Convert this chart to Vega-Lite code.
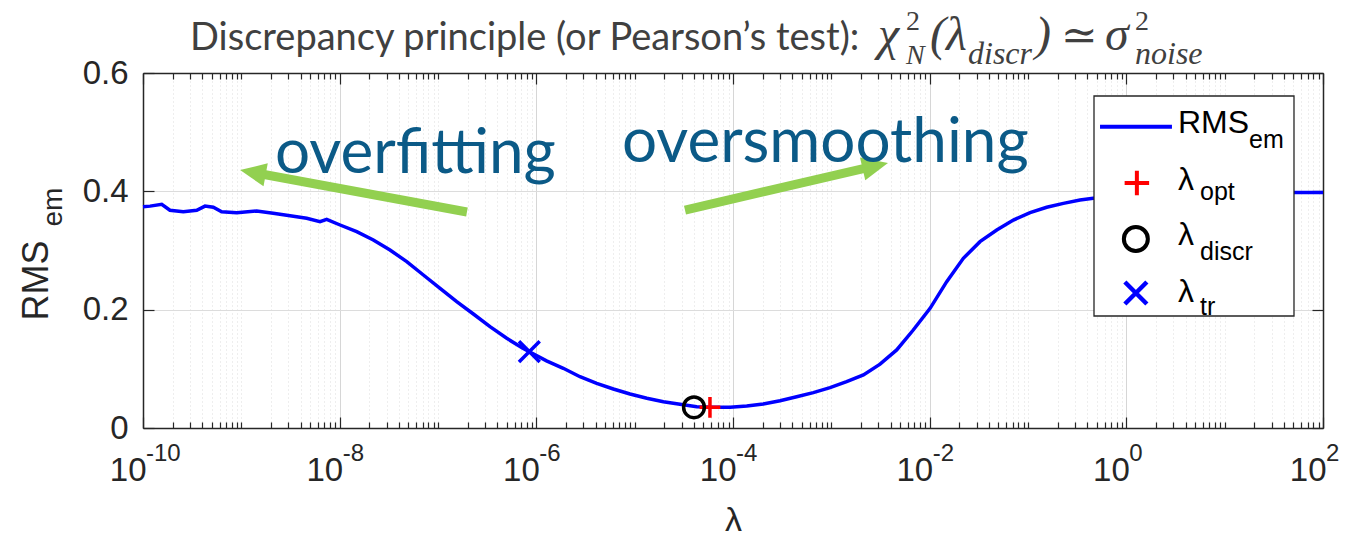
{
  "$schema": "https://vega.github.io/schema/vega-lite/v6.json",
  "width": 1180,
  "height": 355,
  "autosize": {"type": "none"},
  "padding": {"left": 143, "top": 73, "right": 30, "bottom": 110},
  "background": "#ffffff",
  "config": {"view": {"stroke": null}, "font": "Liberation Sans"},
  "data": {"values": [{}]},
  "datasets": {
    "curve": [
      {"lam": 1e-10, "rms": 0.374}, {"lam": 1.18e-10, "rms": 0.375}, {"lam": 1.55e-10, "rms": 0.378}, {"lam": 1.88e-10, "rms": 0.368},
      {"lam": 2.57e-10, "rms": 0.3656}, {"lam": 3.52e-10, "rms": 0.368}, {"lam": 4.27e-10, "rms": 0.375}, {"lam": 5.19e-10, "rms": 0.373},
      {"lam": 6.31e-10, "rms": 0.3656}, {"lam": 8.97e-10, "rms": 0.364}, {"lam": 1.43e-9, "rms": 0.3668}, {"lam": 2.11e-9, "rms": 0.3628},
      {"lam": 3.13e-9, "rms": 0.3589}, {"lam": 4.62e-9, "rms": 0.3544}, {"lam": 6.31e-9, "rms": 0.3487}, {"lam": 7.38e-9, "rms": 0.3527},
      {"lam": 1.01e-8, "rms": 0.3431}, {"lam": 1.49e-8, "rms": 0.3318}, {"lam": 2.2e-8, "rms": 0.3177}, {"lam": 3.25e-8, "rms": 0.3008},
      {"lam": 4.81e-8, "rms": 0.2811}, {"lam": 7.1e-8, "rms": 0.2586}, {"lam": 1.05e-7, "rms": 0.2361}, {"lam": 1.55e-7, "rms": 0.2135},
      {"lam": 2.29e-7, "rms": 0.1927}, {"lam": 3.38e-7, "rms": 0.1712}, {"lam": 5.0e-7, "rms": 0.1516}, {"lam": 7.36e-7, "rms": 0.1345},
      {"lam": 8.49e-7, "rms": 0.129}, {"lam": 1.27e-6, "rms": 0.1135}, {"lam": 1.88e-6, "rms": 0.1009}, {"lam": 2.78e-6, "rms": 0.0867},
      {"lam": 4.11e-6, "rms": 0.0755}, {"lam": 6.07e-6, "rms": 0.0659}, {"lam": 8.97e-6, "rms": 0.0575}, {"lam": 1.33e-5, "rms": 0.0502},
      {"lam": 1.96e-5, "rms": 0.0445}, {"lam": 2.89e-5, "rms": 0.04}, {"lam": 4.28e-5, "rms": 0.036}, {"lam": 6.31e-5, "rms": 0.0349},
      {"lam": 9.33e-5, "rms": 0.0349}, {"lam": 1.38e-4, "rms": 0.0372}, {"lam": 2.03e-4, "rms": 0.0406}, {"lam": 3.01e-4, "rms": 0.0462},
      {"lam": 4.44e-4, "rms": 0.0529}, {"lam": 6.56e-4, "rms": 0.0597}, {"lam": 9.7e-4, "rms": 0.0681}, {"lam": 1.43e-3, "rms": 0.0783},
      {"lam": 2.12e-3, "rms": 0.0896}, {"lam": 3.13e-3, "rms": 0.108}, {"lam": 4.62e-3, "rms": 0.132}, {"lam": 6.81e-3, "rms": 0.1656},
      {"lam": 1.01e-2, "rms": 0.2023}, {"lam": 1.49e-2, "rms": 0.2473}, {"lam": 2.2e-2, "rms": 0.2868}, {"lam": 3.25e-2, "rms": 0.3149},
      {"lam": 4.81e-2, "rms": 0.3346}, {"lam": 7.1e-2, "rms": 0.3515}, {"lam": 0.105, "rms": 0.3639}, {"lam": 0.155, "rms": 0.373},
      {"lam": 0.229, "rms": 0.3797}, {"lam": 0.338, "rms": 0.3853}, {"lam": 0.461, "rms": 0.3882}, {"lam": 1.74, "rms": 0.393},
      {"lam": 5.61, "rms": 0.396}, {"lam": 18.1, "rms": 0.3975}, {"lam": 51.9, "rms": 0.398}, {"lam": 100, "rms": 0.398}
    ],
    "markers": [
      {"name": "λ_opt", "lam": 5.83e-5, "rms": 0.035},
      {"name": "λ_discr", "lam": 4.01e-5, "rms": 0.035},
      {"name": "λ_tr", "lam": 8.49e-7, "rms": 0.129}
    ],
    "decades": [
      {"lam": 1e-10, "exp": "-10"}, {"lam": 1e-8, "exp": "-8"}, {"lam": 1e-6, "exp": "-6"}, {"lam": 1e-4, "exp": "-4"},
      {"lam": 1e-2, "exp": "-2"}, {"lam": 1, "exp": "0"}, {"lam": 100, "exp": "2"}
    ]
  },
  "resolve": {"axis": {"x": "independent", "y": "independent"}},
  "layer": [
    {
      "data": {"name": "curve"},
      "mark": {"type": "line", "color": "#0000ff", "strokeWidth": 3.5},
      "encoding": {
        "x": {"field": "lam", "type": "quantitative", "scale": {"type": "log", "domain": [1e-10, 100], "nice": false},
          "axis": {
            "orient": "bottom",
            "values": [1e-10,2e-10,3e-10,4e-10,5e-10,6e-10,7e-10,8e-10,9e-10,1e-9,2e-9,3e-9,4e-9,5e-9,6e-9,7e-9,8e-9,9e-9,1e-8,2e-8,3e-8,4e-8,5e-8,6e-8,7e-8,8e-8,9e-8,1e-7,2e-7,3e-7,4e-7,5e-7,6e-7,7e-7,8e-7,9e-7,1e-6,2e-6,3e-6,4e-6,5e-6,6e-6,7e-6,8e-6,9e-6,1e-5,2e-5,3e-5,4e-5,5e-5,6e-5,7e-5,8e-5,9e-5,1e-4,2e-4,3e-4,4e-4,5e-4,6e-4,7e-4,8e-4,9e-4,0.001,0.002,0.003,0.004,0.005,0.006,0.007,0.008,0.009,0.01,0.02,0.03,0.04,0.05,0.06,0.07,0.08,0.09,0.1,0.2,0.3,0.4,0.5,0.6,0.7,0.8,0.9,1,2,3,4,5,6,7,8,9,10,20,30,40,50,60,70,80,90,100],
            "labelExpr": "(abs(log(datum.value)/LN10 - round(log(datum.value)/LN10)) < 0.001 && round(log(datum.value)/LN10) % 2 == 0) ? '10' : ''",
            "labelAlign": "right", "labelOffset": 3, "labelBaseline": "alphabetic", "labelPadding": 63,
            "labelFont": "Liberation Sans", "labelFontSize": 33, "labelColor": "#262626",
            "labelFlush": false, "labelOverlap": false, "labelBound": false,
            "ticks": true,
            "tickSize": {"condition": {"test": "abs(log(datum.value)/LN10 - round(log(datum.value)/LN10)) < 0.001 && round(log(datum.value)/LN10) % 2 == 0", "value": -11}, "value": -6},
            "tickColor": "#262626", "tickWidth": 1.2,
            "grid": true,
            "gridColor": {"condition": {"test": "abs(log(datum.value)/LN10 - round(log(datum.value)/LN10)) < 0.001 && round(log(datum.value)/LN10) % 2 == 0", "value": "#d6d6d6"}, "value": "#dddddd"},
            "gridDash": {"condition": {"test": "abs(log(datum.value)/LN10 - round(log(datum.value)/LN10)) < 0.001 && round(log(datum.value)/LN10) % 2 == 0", "value": []}, "value": [1, 3]},
            "gridWidth": 1,
            "domain": true, "domainColor": "#262626", "domainWidth": 1.5,
            "title": "λ", "titleFont": "Liberation Sans", "titleFontSize": 34, "titleFontWeight": "normal", "titleColor": "#262626",
            "titleX": 590, "titleY": 102, "titleBaseline": "alphabetic", "titleAlign": "center"
          }
        },
        "y": {"field": "rms", "type": "quantitative", "scale": {"domain": [0, 0.6], "nice": false, "zero": false},
          "axis": {
            "orient": "left", "values": [0, 0.2, 0.4, 0.6],
            "labelExpr": "datum.value == 0 ? '0' : format(datum.value, '.1f')",
            "labelFont": "Liberation Sans", "labelFontSize": 33, "labelColor": "#262626", "labelPadding": 26,
            "labelFlush": false, "labelBound": false, "labelOverlap": false,
            "tickSize": -11, "tickColor": "#262626", "tickWidth": 1.2,
            "grid": true, "gridColor": "#dcdcdc", "gridWidth": 1,
            "domainColor": "#262626", "domainWidth": 1.5,
            "title": "RMS", "titleFont": "Liberation Sans", "titleFontSize": 36, "titleFontWeight": "normal", "titleColor": "#262626",
            "titleAngle": 270, "titleX": -96, "titleY": 207, "titleAlign": "center", "titleBaseline": "alphabetic"
          }
        }
      }
    },
    {
      "data": {"name": "markers"},
      "mark": {"type": "point", "filled": false, "strokeWidth": 3.5, "size": 430, "opacity": 1},
      "encoding": {
        "x": {"field": "lam", "type": "quantitative", "scale": {"type": "log", "domain": [1e-10, 100], "nice": false},
          "axis": {
            "orient": "top",
            "values": [1e-10,2e-10,3e-10,4e-10,5e-10,6e-10,7e-10,8e-10,9e-10,1e-9,2e-9,3e-9,4e-9,5e-9,6e-9,7e-9,8e-9,9e-9,1e-8,2e-8,3e-8,4e-8,5e-8,6e-8,7e-8,8e-8,9e-8,1e-7,2e-7,3e-7,4e-7,5e-7,6e-7,7e-7,8e-7,9e-7,1e-6,2e-6,3e-6,4e-6,5e-6,6e-6,7e-6,8e-6,9e-6,1e-5,2e-5,3e-5,4e-5,5e-5,6e-5,7e-5,8e-5,9e-5,1e-4,2e-4,3e-4,4e-4,5e-4,6e-4,7e-4,8e-4,9e-4,0.001,0.002,0.003,0.004,0.005,0.006,0.007,0.008,0.009,0.01,0.02,0.03,0.04,0.05,0.06,0.07,0.08,0.09,0.1,0.2,0.3,0.4,0.5,0.6,0.7,0.8,0.9,1,2,3,4,5,6,7,8,9,10,20,30,40,50,60,70,80,90,100],
            "labels": false, "grid": false,
            "tickSize": {"condition": {"test": "abs(log(datum.value)/LN10 - round(log(datum.value)/LN10)) < 0.001 && round(log(datum.value)/LN10) % 2 == 0", "value": -11}, "value": -6},
            "tickColor": "#262626", "tickWidth": 1.2,
            "domainColor": "#262626", "domainWidth": 1.5, "title": null
          }
        },
        "y": {"field": "rms", "type": "quantitative", "scale": {"domain": [0, 0.6], "nice": false, "zero": false},
          "axis": {
            "orient": "right", "values": [0, 0.2, 0.4, 0.6], "labels": false, "grid": false,
            "tickSize": -11, "tickColor": "#262626", "tickWidth": 1.2,
            "domainColor": "#262626", "domainWidth": 1.5, "title": null
          }
        },
        "shape": {"field": "name", "type": "nominal", "scale": {"domain": ["λ_opt", "λ_discr", "λ_tr"], "range": ["M-1,0H1M0,-1V1", "circle", "M-1,-1L1,1M-1,1L1,-1"]}, "legend": null},
        "color": {"field": "name", "type": "nominal", "scale": {"domain": ["λ_opt", "λ_discr", "λ_tr"], "range": ["#ff0000", "#000000", "#0000ff"]}, "legend": null}
      }
    },
    {
      "data": {"name": "decades"},
      "mark": {"type": "text", "align": "left", "baseline": "alphabetic", "dx": 3, "dy": 33, "font": "Liberation Sans", "fontSize": 24, "color": "#262626"},
      "encoding": {
        "x": {"field": "lam", "type": "quantitative", "scale": {"type": "log", "domain": [1e-10, 100], "nice": false}, "axis": null},
        "y": {"datum": 0, "scale": {"domain": [0, 0.6], "nice": false, "zero": false}, "axis": null},
        "text": {"field": "exp"}
      }
    },
    {
      "mark": {"type": "rect", "fill": "#ffffff", "stroke": "#262626", "strokeWidth": 1.3},
      "encoding": {
        "x": {"datum": 0.469, "scale": {"type": "log", "domain": [1e-10, 100], "nice": false}, "axis": null}, "x2": {"datum": 50.7},
        "y": {"datum": 0.5611, "scale": {"domain": [0, 0.6], "nice": false, "zero": false}, "axis": null}, "y2": {"datum": 0.1893}
      }
    },
    {
      "mark": {"type": "rule", "color": "#0000ff", "strokeWidth": 4},
      "encoding": {
        "x": {"datum": 0.54, "scale": {"type": "log", "domain": [1e-10, 100], "nice": false}, "axis": null}, "x2": {"datum": 2.91},
        "y": {"datum": 0.5092, "scale": {"domain": [0, 0.6], "nice": false, "zero": false}, "axis": null}
      }
    },
    {
      "mark": {"type": "point", "shape": "M-1,0H1M0,-1V1", "size": 600, "filled": false, "stroke": "#ff0000", "strokeWidth": 4, "opacity": 1},
      "encoding": {
        "x": {"datum": 1.28, "scale": {"type": "log", "domain": [1e-10, 100], "nice": false}, "axis": null},
        "y": {"datum": 0.4141, "scale": {"domain": [0, 0.6], "nice": false, "zero": false}, "axis": null}
      }
    },
    {
      "mark": {"type": "point", "shape": "circle", "size": 576, "filled": false, "stroke": "#000000", "strokeWidth": 4, "opacity": 1},
      "encoding": {
        "x": {"datum": 1.25, "scale": {"type": "log", "domain": [1e-10, 100], "nice": false}, "axis": null},
        "y": {"datum": 0.3194, "scale": {"domain": [0, 0.6], "nice": false, "zero": false}, "axis": null}
      }
    },
    {
      "mark": {"type": "point", "shape": "M-1,-1L1,1M-1,1L1,-1", "size": 484, "filled": false, "stroke": "#0000ff", "strokeWidth": 4.5, "opacity": 1},
      "encoding": {
        "x": {"datum": 1.25, "scale": {"type": "log", "domain": [1e-10, 100], "nice": false}, "axis": null},
        "y": {"datum": 0.2282, "scale": {"domain": [0, 0.6], "nice": false, "zero": false}, "axis": null}
      }
    },
    {
      "mark": {"type": "text", "text": "RMS", "align": "left", "baseline": "alphabetic", "font": "Liberation Sans", "fontSize": 32, "color": "#000000"},
      "encoding": {
        "x": {"datum": 3.35, "scale": {"type": "log", "domain": [1e-10, 100], "nice": false}, "axis": null},
        "y": {"datum": 0.4986, "scale": {"domain": [0, 0.6], "nice": false, "zero": false}, "axis": null}
      }
    },
    {
      "mark": {"type": "text", "text": "em", "align": "left", "baseline": "alphabetic", "font": "Liberation Sans", "fontSize": 25, "color": "#000000"},
      "encoding": {
        "x": {"datum": 17.7, "scale": {"type": "log", "domain": [1e-10, 100], "nice": false}, "axis": null},
        "y": {"datum": 0.4732, "scale": {"domain": [0, 0.6], "nice": false, "zero": false}, "axis": null}
      }
    },
    {
      "mark": {"type": "text", "text": "λ", "align": "left", "baseline": "alphabetic", "font": "Liberation Sans", "fontSize": 32, "color": "#000000"},
      "encoding": {
        "x": {"datum": 3.35, "scale": {"type": "log", "domain": [1e-10, 100], "nice": false}, "axis": null},
        "y": {"datum": 0.4023, "scale": {"domain": [0, 0.6], "nice": false, "zero": false}, "axis": null}
      }
    },
    {
      "mark": {"type": "text", "text": "opt", "align": "left", "baseline": "alphabetic", "font": "Liberation Sans", "fontSize": 25, "color": "#000000"},
      "encoding": {
        "x": {"datum": 5.61, "scale": {"type": "log", "domain": [1e-10, 100], "nice": false}, "axis": null},
        "y": {"datum": 0.3853, "scale": {"domain": [0, 0.6], "nice": false, "zero": false}, "axis": null}
      }
    },
    {
      "mark": {"type": "text", "text": "λ", "align": "left", "baseline": "alphabetic", "font": "Liberation Sans", "fontSize": 32, "color": "#000000"},
      "encoding": {
        "x": {"datum": 3.35, "scale": {"type": "log", "domain": [1e-10, 100], "nice": false}, "axis": null},
        "y": {"datum": 0.3093, "scale": {"domain": [0, 0.6], "nice": false, "zero": false}, "axis": null}
      }
    },
    {
      "mark": {"type": "text", "text": "discr", "align": "left", "baseline": "alphabetic", "font": "Liberation Sans", "fontSize": 25, "color": "#000000"},
      "encoding": {
        "x": {"datum": 5.61, "scale": {"type": "log", "domain": [1e-10, 100], "nice": false}, "axis": null},
        "y": {"datum": 0.2839, "scale": {"domain": [0, 0.6], "nice": false, "zero": false}, "axis": null}
      }
    },
    {
      "mark": {"type": "text", "text": "λ", "align": "left", "baseline": "alphabetic", "font": "Liberation Sans", "fontSize": 32, "color": "#000000"},
      "encoding": {
        "x": {"datum": 3.35, "scale": {"type": "log", "domain": [1e-10, 100], "nice": false}, "axis": null},
        "y": {"datum": 0.213, "scale": {"domain": [0, 0.6], "nice": false, "zero": false}, "axis": null}
      }
    },
    {
      "mark": {"type": "text", "text": "tr", "align": "left", "baseline": "alphabetic", "font": "Liberation Sans", "fontSize": 25, "color": "#000000"},
      "encoding": {
        "x": {"datum": 5.61, "scale": {"type": "log", "domain": [1e-10, 100], "nice": false}, "axis": null},
        "y": {"datum": 0.191, "scale": {"domain": [0, 0.6], "nice": false, "zero": false}, "axis": null}
      }
    },
    {
      "mark": {"type": "text", "text": "em", "angle": 270, "align": "center", "baseline": "alphabetic", "font": "Liberation Sans", "fontSize": 28, "color": "#262626"},
      "encoding": {
        "x": {"datum": 1.5e-11, "scale": {"type": "log", "domain": [1e-10, 100], "nice": false}, "axis": null},
        "y": {"datum": 0.3735, "scale": {"domain": [0, 0.6], "nice": false, "zero": false}, "axis": null}
      }
    },
    {
      "mark": {"type": "rule", "color": "#92d050", "strokeWidth": 9},
      "encoding": {
        "x": {"datum": 1.97e-7, "scale": {"type": "log", "domain": [1e-10, 100], "nice": false}, "axis": null}, "x2": {"datum": 1.31e-9},
        "y": {"datum": 0.3651, "scale": {"domain": [0, 0.6], "nice": false, "zero": false}, "axis": null}, "y2": {"datum": 0.432}
      }
    },
    {
      "mark": {"type": "rule", "color": "#92d050", "strokeWidth": 9},
      "encoding": {
        "x": {"datum": 3.25e-5, "scale": {"type": "log", "domain": [1e-10, 100], "nice": false}, "axis": null}, "x2": {"datum": 2.8e-3},
        "y": {"datum": 0.3684, "scale": {"domain": [0, 0.6], "nice": false, "zero": false}, "axis": null}, "y2": {"datum": 0.443}
      }
    },
    {
      "mark": {"type": "point", "shape": "M1,0L-1,-0.9L-1,0.9Z", "size": 676, "filled": true, "color": "#92d050", "opacity": 1, "strokeWidth": 0, "angle": 190.5},
      "encoding": {
        "x": {"datum": 1.31e-9, "scale": {"type": "log", "domain": [1e-10, 100], "nice": false}, "axis": null},
        "y": {"datum": 0.432, "scale": {"domain": [0, 0.6], "nice": false, "zero": false}, "axis": null}
      }
    },
    {
      "mark": {"type": "point", "shape": "M1,0L-1,-0.9L-1,0.9Z", "size": 676, "filled": true, "color": "#92d050", "opacity": 1, "strokeWidth": 0, "angle": 347},
      "encoding": {
        "x": {"datum": 2.8e-3, "scale": {"type": "log", "domain": [1e-10, 100], "nice": false}, "axis": null},
        "y": {"datum": 0.443, "scale": {"domain": [0, 0.6], "nice": false, "zero": false}, "axis": null}
      }
    },
    {
      "mark": {"type": "text", "text": "overfitting", "align": "left", "baseline": "alphabetic", "font": "Lato", "fontSize": 62, "color": "#0b5a87"},
      "encoding": {
        "x": {"datum": 2.2e-9, "scale": {"type": "log", "domain": [1e-10, 100], "nice": false}, "axis": null},
        "y": {"datum": 0.431, "scale": {"domain": [0, 0.6], "nice": false, "zero": false}, "axis": null}
      }
    },
    {
      "mark": {"type": "text", "text": "oversmoothing", "align": "left", "baseline": "alphabetic", "font": "Lato", "fontSize": 62, "color": "#0b5a87"},
      "encoding": {
        "x": {"datum": 7.43e-6, "scale": {"type": "log", "domain": [1e-10, 100], "nice": false}, "axis": null},
        "y": {"datum": 0.4496, "scale": {"domain": [0, 0.6], "nice": false, "zero": false}, "axis": null}
      }
    },
    {
      "mark": {"type": "text", "text": "Discrepancy principle (or Pearson’s test):", "align": "left", "baseline": "alphabetic", "font": "Lato", "fontSize": 38, "color": "#404040"},
      "encoding": {
        "x": {"datum": 3.01e-10, "scale": {"type": "log", "domain": [1e-10, 100], "nice": false}, "axis": null},
        "y": {"datum": 0.6389, "scale": {"domain": [0, 0.6], "nice": false, "zero": false}, "axis": null}
      }
    },
    {
      "mark": {"type": "text", "text": "χ", "align": "left", "baseline": "alphabetic", "font": "Liberation Serif", "fontStyle": "italic", "fontSize": 48, "color": "#404040"},
      "encoding": {
        "x": {"datum": 2.98e-3, "scale": {"type": "log", "domain": [1e-10, 100], "nice": false}, "axis": null},
        "y": {"datum": 0.6389, "scale": {"domain": [0, 0.6], "nice": false, "zero": false}, "axis": null}
      }
    },
    {
      "mark": {"type": "text", "text": "2", "align": "left", "baseline": "alphabetic", "font": "Liberation Serif", "fontSize": 28, "color": "#404040"},
      "encoding": {
        "x": {"datum": 5.74e-3, "scale": {"type": "log", "domain": [1e-10, 100], "nice": false}, "axis": null},
        "y": {"datum": 0.6727, "scale": {"domain": [0, 0.6], "nice": false, "zero": false}, "axis": null}
      }
    },
    {
      "mark": {"type": "text", "text": "N", "align": "left", "baseline": "alphabetic", "font": "Liberation Serif", "fontStyle": "italic", "fontSize": 28, "color": "#404040"},
      "encoding": {
        "x": {"datum": 5.74e-3, "scale": {"type": "log", "domain": [1e-10, 100], "nice": false}, "axis": null},
        "y": {"datum": 0.6152, "scale": {"domain": [0, 0.6], "nice": false, "zero": false}, "axis": null}
      }
    },
    {
      "mark": {"type": "text", "text": "(λ", "align": "left", "baseline": "alphabetic", "font": "Liberation Serif", "fontStyle": "italic", "fontSize": 48, "color": "#404040"},
      "encoding": {
        "x": {"datum": 1.007e-2, "scale": {"type": "log", "domain": [1e-10, 100], "nice": false}, "axis": null},
        "y": {"datum": 0.6389, "scale": {"domain": [0, 0.6], "nice": false, "zero": false}, "axis": null}
      }
    },
    {
      "mark": {"type": "text", "text": "discr", "align": "left", "baseline": "alphabetic", "font": "Liberation Serif", "fontStyle": "italic", "fontSize": 32, "color": "#404040"},
      "encoding": {
        "x": {"datum": 2.455e-2, "scale": {"type": "log", "domain": [1e-10, 100], "nice": false}, "axis": null},
        "y": {"datum": 0.6152, "scale": {"domain": [0, 0.6], "nice": false, "zero": false}, "axis": null}
      }
    },
    {
      "mark": {"type": "text", "text": ")", "align": "left", "baseline": "alphabetic", "font": "Liberation Serif", "fontStyle": "italic", "fontSize": 48, "color": "#404040"},
      "encoding": {
        "x": {"datum": 0.1177, "scale": {"type": "log", "domain": [1e-10, 100], "nice": false}, "axis": null},
        "y": {"datum": 0.6389, "scale": {"domain": [0, 0.6], "nice": false, "zero": false}, "axis": null}
      }
    },
    {
      "mark": {"type": "text", "text": "≃", "align": "left", "baseline": "alphabetic", "font": "DejaVu Serif", "fontSize": 44, "color": "#404040"},
      "encoding": {
        "x": {"datum": 0.2163, "scale": {"type": "log", "domain": [1e-10, 100], "nice": false}, "axis": null},
        "y": {"datum": 0.6389, "scale": {"domain": [0, 0.6], "nice": false, "zero": false}, "axis": null}
      }
    },
    {
      "mark": {"type": "text", "text": "σ", "align": "left", "baseline": "alphabetic", "font": "Liberation Serif", "fontStyle": "italic", "fontSize": 48, "color": "#404040"},
      "encoding": {
        "x": {"datum": 0.6068, "scale": {"type": "log", "domain": [1e-10, 100], "nice": false}, "axis": null},
        "y": {"datum": 0.6389, "scale": {"domain": [0, 0.6], "nice": false, "zero": false}, "axis": null}
      }
    },
    {
      "mark": {"type": "text", "text": "2", "align": "left", "baseline": "alphabetic", "font": "Liberation Serif", "fontSize": 28, "color": "#404040"},
      "encoding": {
        "x": {"datum": 1.225, "scale": {"type": "log", "domain": [1e-10, 100], "nice": false}, "axis": null},
        "y": {"datum": 0.6727, "scale": {"domain": [0, 0.6], "nice": false, "zero": false}, "axis": null}
      }
    },
    {
      "mark": {"type": "text", "text": "noise", "align": "left", "baseline": "alphabetic", "font": "Liberation Serif", "fontStyle": "italic", "fontSize": 32, "color": "#404040"},
      "encoding": {
        "x": {"datum": 1.225, "scale": {"type": "log", "domain": [1e-10, 100], "nice": false}, "axis": null},
        "y": {"datum": 0.6152, "scale": {"domain": [0, 0.6], "nice": false, "zero": false}, "axis": null}
      }
    }
  ]
}
